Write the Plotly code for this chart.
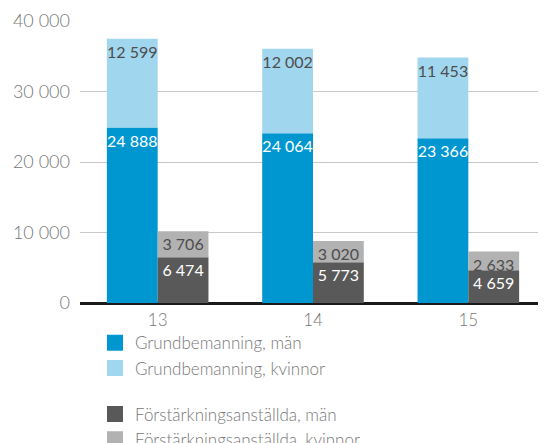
import plotly.graph_objects as go

years = ["13", "14", "15"]
grund_man = [24888, 24064, 23366]
grund_kvinnor = [12599, 12002, 11453]
forst_man = [6474, 5773, 4659]
forst_kvinnor = [3706, 3020, 2633]

BLUE = "#0096d0"
LIGHT_BLUE = "#a1d6ef"
DARK_GRAY = "#595959"
LIGHT_GRAY = "#b2b2b2"
FONT = "Lato"

fig = go.Figure()


def add_seg(y, base, group, color, txtcolor):
    fig.add_trace(
        go.Bar(
            x=years,
            y=y,
            base=base,
            offsetgroup=group,
            marker=dict(color=color, line=dict(width=0)),
            texttemplate="%{y:,}" if base is None else "%{customdata:,}",
            customdata=y,
            textposition="inside",
            insidetextanchor="end",
            textangle=0,
            constraintext="none",
            textfont=dict(color=txtcolor, size=16, family=FONT),
            showlegend=False,
            hoverinfo="skip",
        )
    )


add_seg(grund_man, None, "g", BLUE, "white")
add_seg(grund_kvinnor, grund_man, "g", LIGHT_BLUE, "#4d4d4d")
add_seg(forst_man, None, "f", DARK_GRAY, "white")
add_seg(forst_kvinnor, forst_man, "f", LIGHT_GRAY, "#4d4d4d")

# legend entries (square swatches)
legend_items = [
    ("Grundbemanning, män", BLUE, "a"),
    ("Grundbemanning, kvinnor", LIGHT_BLUE, "a"),
    ("Förstärkningsanställda, män", DARK_GRAY, "b"),
    ("Förstärkningsanställda, kvinnor", LIGHT_GRAY, "b"),
]
for name, color, grp in legend_items:
    fig.add_trace(
        go.Scatter(
            x=[None],
            y=[None],
            mode="markers",
            name=name,
            legendgroup=grp,
            marker=dict(symbol="square", size=18, color=color),
        )
    )

# page adds an 8px body margin, so the figure is 8px smaller
fig.update_layout(
    width=538,
    height=435,
    barmode="group",
    bargap=0.346,
    bargroupgap=0,
    separators=", ",
    paper_bgcolor="white",
    plot_bgcolor="white",
    margin=dict(l=72, r=0, t=13, b=140, autoexpand=False),
    font=dict(family=FONT, color="#777777", size=16),
    xaxis=dict(
        showgrid=False,
        showline=False,
        ticks="",
        ticklabelstandoff=5,
        tickfont=dict(size=17, color="#777777", weight=300),
        range=[-0.5, 2.5],
    ),
    yaxis=dict(
        range=[0, 40000],
        dtick=10000,
        tickformat=",d",
        showgrid=True,
        gridcolor="#c8c8c8",
        gridwidth=1,
        zeroline=True,
        zerolinecolor="#1a1a1a",
        zerolinewidth=3,
        ticks="",
        ticklabelstandoff=9,
        tickfont=dict(size=18, color="#777777", weight=300),
    ),
    legend=dict(
        xref="container",
        yref="container",
        x=0.1617,
        y=0.2706,
        xanchor="left",
        yanchor="top",
        traceorder="grouped",
        tracegroupgap=21,
        itemsizing="trace",
        font=dict(size=17, color="#777777", weight=300),
        bgcolor="rgba(0,0,0,0)",
    ),
)

fig.write_html("out.html")
